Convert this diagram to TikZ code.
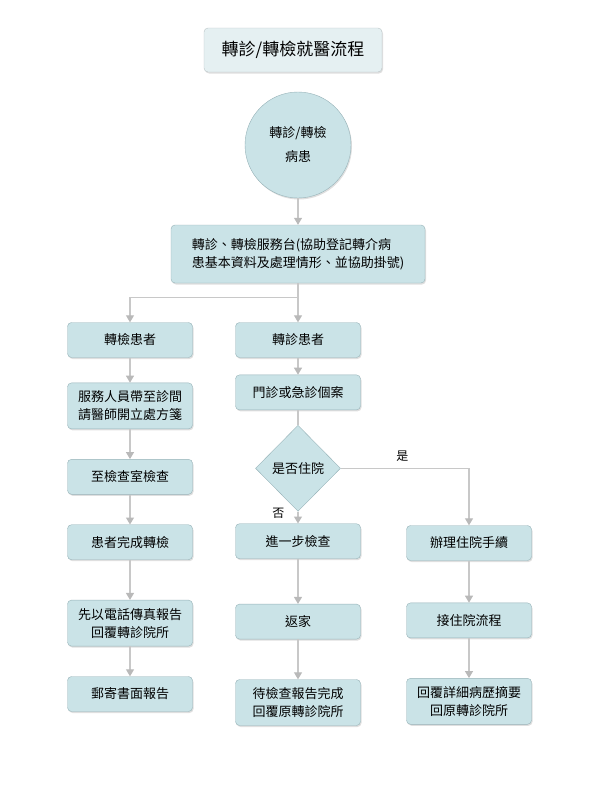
\documentclass[tikz,border=0pt]{standalone}
\usepackage{fontspec}
\setmainfont{Noto Sans CJK TC}
\usetikzlibrary{positioning,arrows.meta,shapes.geometric,shadows}
\definecolor{boxfill}{RGB}{202,227,231}
\definecolor{boxline}{RGB}{150,178,183}
\definecolor{titlefill}{RGB}{229,240,242}
\definecolor{titleline}{RGB}{185,195,197}
\definecolor{linegray}{RGB}{200,200,200}
\definecolor{tipgray}{RGB}{185,185,185}
\tikzset{
  blk/.style={draw=boxline, fill=boxfill, rounded corners=4pt, align=center,
              font=\fontsize{13}{18}\selectfont, minimum width=125pt,
              minimum height=35pt, inner sep=2pt,
              drop shadow={opacity=0.25, shadow xshift=1pt, shadow yshift=-1.5pt}},
  tall/.style={minimum height=46pt},
  titlebox/.style={draw=titleline, fill=titlefill, rounded corners=4pt,
              font=\fontsize{17}{20}\selectfont, minimum width=178pt,
              minimum height=44pt,
              drop shadow={opacity=0.25, shadow xshift=1pt, shadow yshift=-1.5pt}},
  hub/.style={circle, draw=boxline, fill=boxfill, minimum size=106pt,
              align=center, font=\fontsize{13}{24}\selectfont, inner sep=0pt,
              drop shadow={opacity=0.25, shadow xshift=1pt, shadow yshift=-1.5pt}},
  decide/.style={diamond, draw=boxline, fill=boxfill, minimum width=85pt,
              minimum height=86pt, inner sep=0pt, aspect=1,
              font=\fontsize{13}{18}\selectfont},
  lbl/.style={font=\fontsize{12}{14}\selectfont, inner sep=1pt},
  link/.style={draw=linegray, line width=1.2pt},
  flow/.style={link, -{Triangle[length=7pt, width=8pt, color=tipgray]}},
}
\begin{document}
\begin{tikzpicture}[x=1pt, y=-1pt]
  \useasboundingbox (0,0) rectangle (600,787);
  \node[titlebox] (title) at (293,50) {轉診/轉檢就醫流程};
  \node[hub] (patient) at (298,145) {轉診/轉檢\\病患};
  \node[blk, minimum width=254pt, minimum height=58pt, align=left] (desk) at (298,254)
    {轉診、轉檢服務台(協助登記轉介病\\患基本資料及處理情形、並協助掛號)};
  \coordinate[below=14pt of desk] (split);

  % left column
  \node[blk] (chk1) at (130,340) {轉檢患者};
  \node[blk, tall, below=25pt of chk1] (chk2) {服務人員帶至診間\\請醫師開立處方箋};
  \node[blk, below=30pt of chk2] (chk3) {至檢查室檢查};
  \node[blk, below=30pt of chk3] (chk4) {患者完成轉檢};
  \node[blk, tall, below=40pt of chk4] (chk5) {先以電話傳真報告\\回覆轉診院所};
  \node[blk, below=30pt of chk5] (chk6) {郵寄書面報告};

  % middle column
  \node[blk] (ref1) at (298,340) {轉診患者};
  \node[blk, below=17pt of ref1] (ref2) {門診或急診個案};
  \node[decide, below=15pt of ref2] (adm) {是否住院};
  \node[blk, below=12pt of adm] (ref3) {進一步檢查};
  \node[blk, below=45pt of ref3] (ref4) {返家};
  \node[blk, tall, below=40pt of ref4] (ref5) {待檢查報告完成\\回覆原轉診院所};

  % right column
  \node[blk] (hos1) at (469,543) {辦理住院手續};
  \node[blk, below=42pt of hos1] (hos2) {接住院流程};
  \node[blk, tall, below=40pt of hos2] (hos3) {回覆詳細病歷摘要\\回原轉診院所};

  \draw[flow] (patient) -- (desk);
  \draw[link] (desk) -- (split);
  \draw[flow] (split) -| (chk1);
  \draw[flow] (split) -- (ref1);
  \draw[flow] (chk1) -- (chk2);
  \draw[flow] (chk2) -- (chk3);
  \draw[flow] (chk3) -- (chk4);
  \draw[flow] (chk4) -- (chk5);
  \draw[flow] (chk5) -- (chk6);
  \draw[flow] (ref1) -- (ref2);
  \draw[link] (ref2) -- (adm);
  \draw[flow] (adm) -- node[lbl, pos=0.15, left=12pt] (nolbl) {否} (ref3);
  \draw[flow] (adm) -| node[lbl, pos=0.24, above=5pt] (yeslbl) {是} (hos1);
  \draw[flow] (ref3) -- (ref4);
  \draw[flow] (ref4) -- (ref5);
  \draw[flow] (hos1) -- (hos2);
  \draw[flow] (hos2) -- (hos3);
\end{tikzpicture}
\end{document}
